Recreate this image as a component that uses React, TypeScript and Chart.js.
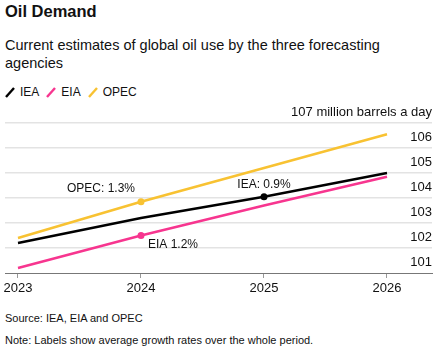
import React, { useEffect, useRef } from "react";
import { Chart, registerables } from "chart.js";

Chart.register(...registerables);

const years = [2023, 2024, 2025, 2026];
const iea = [102.2, 103.2, 104.05, 105.0];
const eia = [101.2, 102.5, 103.7, 104.85];
const opec = [102.4, 103.85, 105.2, 106.55];
const yTicks = [101, 102, 103, 104, 105, 106, 107];
const seriesNames = ["IEA", "EIA", "OPEC"];
const seriesColors = ["#000000", "#f7358f", "#f8c232"];
const labelTexts = ["IEA: 0.9%", "EIA 1.2%", "OPEC: 1.3%"];
const labelIndex = [2, 1, 1];

const FONT = "'Liberation Sans', Arial, sans-serif";

const annotationPlugin = {
  id: "annot",
  afterDatasetsDraw(chart: any) {
    const ctx = chart.ctx;
    const xs = chart.scales.x;
    const ys = chart.scales.y;
    ctx.save();
    ctx.font = `12px ${FONT}`;
    ctx.fillStyle = "#111";
    chart.data.datasets.forEach((ds: any, i: number) => {
      const idx = labelIndex[i];
      const px = xs.getPixelForValue(ds.data[idx].x);
      const py = ys.getPixelForValue(ds.data[idx].y);
      const t = labelTexts[i];
      if (i === 0) {
        ctx.textAlign = "center";
        ctx.textBaseline = "bottom";
        ctx.fillText(t, px, py - 6);
      } else if (i === 1) {
        ctx.textAlign = "left";
        ctx.textBaseline = "top";
        ctx.fillText(t, px + 7, py + 3);
      } else {
        ctx.textAlign = "right";
        ctx.textBaseline = "bottom";
        ctx.fillText(t, px - 6, py - 7);
      }
    });
    ctx.restore();
  },
};

function LegendMark({ color }: { color: string }) {
  return (
    <svg width="10" height="12" style={{ marginRight: 5, verticalAlign: "-1px" }}>
      <line x1="1" y1="11" x2="9" y2="2" stroke={color} strokeWidth="2.4" />
    </svg>
  );
}

export default function App() {
  const ref = useRef<HTMLCanvasElement>(null);
  useEffect(() => {
    if (!ref.current) return;
    const all = [iea, eia, opec];
    const chart = new Chart(ref.current, {
      type: "line",
      data: {
        datasets: all.map((vals, i) => ({
          label: seriesNames[i],
          data: vals.map((v, j) => ({ x: years[j], y: v })),
          borderColor: seriesColors[i],
          backgroundColor: seriesColors[i],
          borderWidth: 2.5,
          pointRadius: years.map((_, j) => (j === labelIndex[i] ? 3.5 : 0)),
          pointBorderWidth: 0,
          tension: 0,
        })),
      },
      plugins: [annotationPlugin],
      options: {
        animation: false,
        responsive: false,
        maintainAspectRatio: false,
        layout: { padding: { left: 5, right: 16, top: 23, bottom: 0 } },
        plugins: { legend: { display: false }, tooltip: { enabled: false } },
        scales: {
          x: {
            type: "linear",
            min: 2023 - 13 / 123,
            max: 2023 - 13 / 123 + 427 / 123,
            afterBuildTicks: (axis: any) => {
              axis.ticks = years.map((y) => ({ value: y }));
            },
            afterFit: (axis: any) => {
              axis.height = 27;
            },
            ticks: {
              callback: (v: any) => String(v),
              color: "#111",
              font: { family: FONT, size: 13 },
              padding: 3,
              maxRotation: 0,
              autoSkip: false,
            },
            grid: {
              drawOnChartArea: false,
              drawTicks: true,
              tickLength: 5,
              color: "#999",
            },
            border: { display: true, color: "#777", width: 1 },
          },
          y: {
            position: "right",
            min: 101,
            max: 107,
            afterBuildTicks: (axis: any) => {
              axis.ticks = yTicks.map((v) => ({ value: v }));
            },
            ticks: {
              mirror: true,
              padding: 0,
              labelOffset: -11,
              color: "#111",
              font: { family: FONT, size: 13 },
              callback: (v: any) => (v === 107 ? "107 million barrels a day" : String(v)),
            },
            grid: {
              drawTicks: false,
              color: (c: any) => (c.tick && c.tick.value === 101 ? "rgba(0,0,0,0)" : "#e3e3e3"),
              lineWidth: 1.5,
            },
            border: { display: false },
          },
        },
      },
    });
    return () => chart.destroy();
  }, []);

  return (
    <div
      style={{
        position: "absolute",
        left: 0,
        top: 0,
        width: 448,
        height: 355,
        background: "#fff",
        fontFamily: FONT,
        color: "#111",
      }}
    >
      <div style={{ position: "absolute", left: 5, top: 2, fontSize: 16.5, fontWeight: "bold" }}>
        Oil Demand
      </div>
      <div style={{ position: "absolute", left: 5, top: 36, fontSize: 14.5, lineHeight: "18px", width: 440 }}>
        Current estimates of global oil use by the three forecasting
        <br />
        agencies
      </div>
      <div style={{ position: "absolute", left: 5, top: 85, fontSize: 12, display: "flex", alignItems: "center" }}>
        {seriesNames.map((n, i) => (
          <span key={n} style={{ marginRight: 7, display: "inline-flex", alignItems: "center" }}>
            <LegendMark color={seriesColors[i]} />
            {n}
          </span>
        ))}
      </div>
      <canvas
        ref={ref}
        width={448}
        height={200}
        style={{ position: "absolute", left: 0, top: 100, width: 448, height: 200 }}
      />
      <div style={{ position: "absolute", left: 5, top: 312, fontSize: 11 }}>Source: IEA, EIA and OPEC</div>
      <div style={{ position: "absolute", left: 5, top: 334, fontSize: 11 }}>
        Note: Labels show average growth rates over the whole period.
      </div>
    </div>
  );
}
